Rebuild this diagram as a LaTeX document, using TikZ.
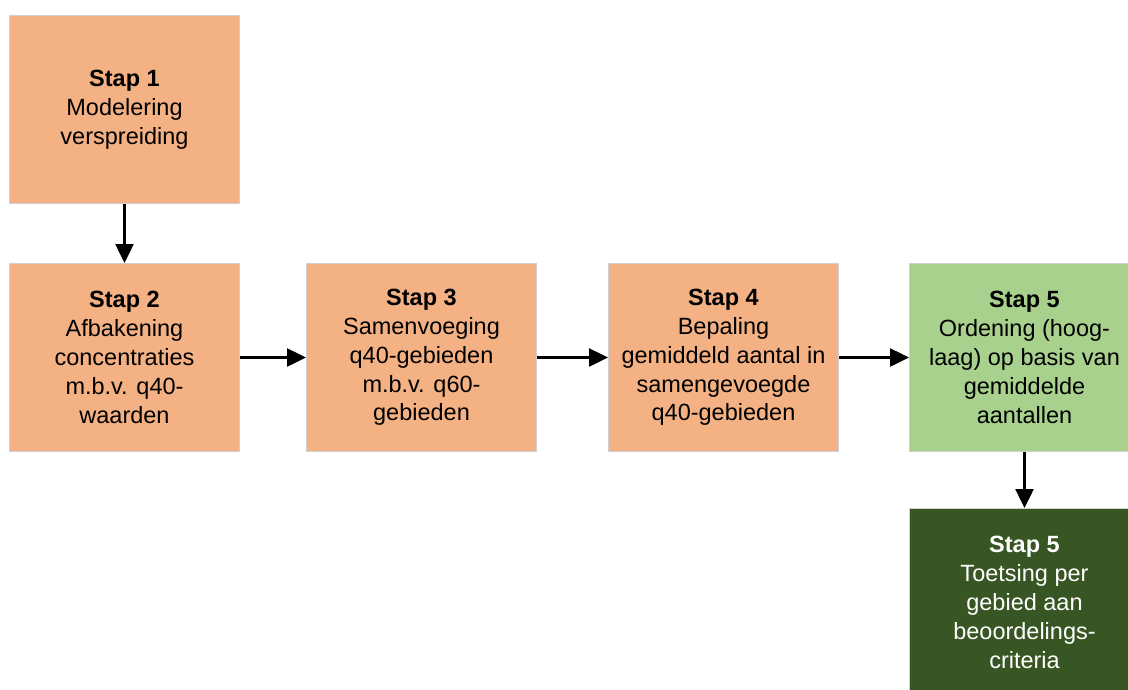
\documentclass[tikz,border=0pt]{standalone}
\usepackage{fontspec}
\setmainfont{Liberation Sans}
\usetikzlibrary{arrows.meta}
\definecolor{salmon}{HTML}{F4B183}
\definecolor{lgreen}{HTML}{A9D18E}
\definecolor{dgreen}{HTML}{375623}
\definecolor{bord}{HTML}{D0D0D0}
\begin{document}
\begin{tikzpicture}[x=1pt,y=-1pt,
  stepbox/.style={draw=bord, line width=1pt, minimum width=230pt, minimum height=188pt,
    inner sep=0pt, align=center, font=\fontsize{23.5pt}{28.8pt}\selectfont, anchor=north west},
  conn/.style={line width=2.5pt, -{Triangle[length=19pt,width=18pt]}}]
\useasboundingbox (0,0) rectangle (1128,689);
\begin{scope}
\clip (0,0) rectangle (1128,689);
\node[stepbox, fill=salmon] (s1) at (9,15) {\textbf{Stap 1}\\Modelering\\verspreiding};
\node[stepbox, fill=salmon] (s2) at (9,263) {\textbf{Stap 2}\\Afbakening\\concentraties\\m.b.v. q40-\\waarden};
\node[stepbox, fill=salmon] (s3) at (306,263) {\textbf{Stap 3}\\Samenvoeging\\q40-gebieden\\m.b.v. q60-\\gebieden};
\node[stepbox, fill=salmon] (s4) at (608,263) {\textbf{Stap 4}\\Bepaling\\gemiddeld aantal in\\samengevoegde\\q40-gebieden};
\node[stepbox, fill=lgreen] (s5) at (909,263) {\textbf{Stap 5}\\Ordening (hoog-\\laag) op basis van\\gemiddelde\\aantallen};
\node[stepbox, fill=dgreen, text=white] (s6) at (909,508) {\textbf{Stap 5}\\Toetsing per\\gebied aan\\beoordelings-\\criteria};
\end{scope}
\draw[conn] (s1.south) -- (s2.north);
\draw[conn] (s2.east) -- (s3.west);
\draw[conn] (s3.east) -- (s4.west);
\draw[conn] (s4.east) -- (s5.west);
\draw[conn] (s5.south) -- (s6.north);
\end{tikzpicture}
\end{document}
